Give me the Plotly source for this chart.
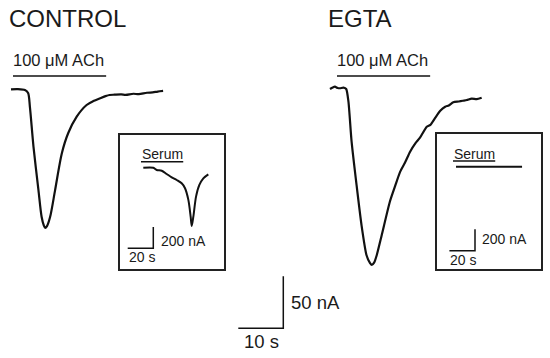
import plotly.graph_objects as go

# ---------------- data ----------------
# Control whole-cell current (time s from trace start, current nA)
ctrl_t = [0, 1.5, 3.1, 3.8, 4.2, 5.0, 6.1, 6.8, 7.3, 7.6, 8.0, 8.7, 9.8, 11.3, 12.7, 14.6, 16.8, 18.3, 19.8, 21.0, 21.9,
          23.0, 24.5, 25.5, 27.2, 28.4, 30.2, 31.5, 32.6, 33.8]
ctrl_i = [0, 0.2, -0.7, -3.6, -16.8, -55.3, -96.9, -122.6, -131.0, -133.2, -131.5, -122.6, -96.9, -61.5, -42.3, -26.3, -15.1,
          -11.3, -8.6, -6.6, -5.5, -5.2, -4.9, -5.3, -4.3, -4.7, -3.3, -3.0, -2.2, -1.6]

# EGTA whole-cell current
egta_t = [0, 0.6, 1.1, 1.7, 2.2, 3.0, 3.6, 4.1, 4.8, 5.9, 7.0, 8.1, 8.9, 9.3, 9.8, 10.4, 11.5, 13.3, 14.5, 15.6, 16.7, 17.8,
          19.0, 20.0, 21.5, 22.3, 23.3, 24.5, 25.6, 26.4, 27.4, 28.6, 29.5, 30.4, 31.5, 32.6, 33.7]
egta_i = [0, 1.5, 2.2, 1.0, 0.7, 1.4, 0, -12.2, -50.7, -92.3, -130.8, -159.6, -167.5, -169.2, -167.0, -159.6, -140.4,
          -108.4, -93.0, -79.5, -70.5, -60.3, -52.0, -46.8, -36.3, -34.5, -28.2, -21.0, -17.0, -15.8, -12.8, -12.0,
          -11.3, -10.6, -9.2, -9.8, -8.4]

# Serum insets (time s, current nA)
ctrl_serum_t = [0, 7.8, 10.5, 14.4, 18.3, 22.2, 26.1, 30.0, 32.6, 35.2, 37.0, 37.8, 39.1, 41.2, 43.8, 46.9, 50.8]
ctrl_serum_i = [0, 0, -21, -28, -59, -90, -115, -146, -192, -301, -457, -545, -457, -270, -161, -99, -62]
egta_serum_t = [0, 51.6]
egta_serum_i = [0, 0]

ach_duration = 20.7     # s
serum_duration = 33.0   # s
main_scale_t, main_scale_i = 10, 50      # s, nA
inset_scale_t, inset_scale_i = 20, 200   # s, nA

# ---------------- layout helpers ----------------
W, H = 550, 358
PX_PER_S, PX_PER_NA = 4.5, 1.04          # main scale
IN_PX_PER_S, IN_PX_PER_NA = 1.28, 0.107  # inset scale

BLACK = "#111111"
FONT = "Arial, Liberation Sans, sans-serif"

fig = go.Figure()

def line(x, y, xa="x", ya="y", w=2.0, shape="linear", smooth=1.0):
    fig.add_trace(go.Scatter(x=x, y=y, mode="lines", xaxis=xa, yaxis=ya,
                             line=dict(color=BLACK, width=w, shape=shape, smoothing=smooth),
                             hoverinfo="skip", showlegend=False))

# main axes: x in s, y in nA (0 at top edge)
def main_pos(px, py):
    return px / PX_PER_S, -py / PX_PER_NA

# Control trace
x0, y0 = main_pos(11, 89.3)
line([x0 + t for t in ctrl_t], [y0 + i for i in ctrl_i], w=2.2, shape="spline", smooth=0.8)
bx, by = main_pos(13, 76)
line([bx, bx + ach_duration], [by, by], w=1.6)

# EGTA trace
x1, y1 = main_pos(330, 89)
line([x1 + t for t in egta_t], [y1 + i for i in egta_i], w=2.2, shape="spline", smooth=0.6)
bx, by = main_pos(337, 76)
line([bx, bx + ach_duration], [by, by], w=1.6)

# main scale bar
sx, sy = main_pos(283.3, 328.3)
line([sx - main_scale_t, sx, sx], [sy, sy, sy + main_scale_i], w=1.5)

# ---------------- insets ----------------
insets = [
    dict(box=(120, 135, 224, 269), xa="x2", ya="y2",
         start=(143.3, 167.7), t=ctrl_serum_t, i=ctrl_serum_i,
         bar=(141, 161.7), scale=(153.3, 248.3)),
    dict(box=(437, 134, 541, 269), xa="x3", ya="y3",
         start=(456, 166.7), t=egta_serum_t, i=egta_serum_i,
         bar=(453, 161), scale=(475, 250.7)),
]

axis_common = dict(showgrid=False, zeroline=False, showticklabels=False, ticks="")
layout_axes = {}
for k, ins in enumerate(insets):
    L, T, R, B = ins["box"]
    def ipos(px, py, L=L, T=T):
        return (px - L) / IN_PX_PER_S, -(py - T) / IN_PX_PER_NA
    sx0, sy0 = ipos(*ins["start"])
    line([sx0 + t for t in ins["t"]], [sy0 + i for i in ins["i"]],
         xa=ins["xa"], ya=ins["ya"], w=2.0, shape="spline", smooth=0.8)
    bx, by = ipos(*ins["bar"])
    line([bx, bx + serum_duration], [by, by], xa=ins["xa"], ya=ins["ya"], w=1.6)
    cx, cy = ipos(*ins["scale"])
    line([cx - inset_scale_t, cx, cx], [cy, cy, cy + inset_scale_i],
         xa=ins["xa"], ya=ins["ya"], w=1.5)
    n = k + 2
    layout_axes[f"xaxis{n}"] = dict(domain=[L / W, R / W], range=[0, (R - L) / IN_PX_PER_S],
                                    anchor=f"y{n}", showline=True, mirror=True,
                                    linecolor="#222222", linewidth=1.5, **axis_common)
    layout_axes[f"yaxis{n}"] = dict(domain=[1 - B / H, 1 - T / H], range=[-(B - T) / IN_PX_PER_NA, 0],
                                    anchor=f"x{n}", showline=True, mirror=True,
                                    linecolor="#222222", linewidth=1.5, **axis_common)

# ---------------- text ----------------
def txt(s, px, py, size, xanchor="left"):
    return dict(text=s, x=px / W, y=1 - py / H, xref="paper", yref="paper",
                xanchor=xanchor, yanchor="middle", showarrow=False,
                font=dict(family=FONT, size=size, color="#1a1a1a"))

annotations = [
    txt("CONTROL", 7, 18, 24),
    txt("EGTA", 326, 18, 24),
    txt("100 μM ACh", 11, 60, 16.5),
    txt("100 μM ACh", 335, 60, 16.5),
    txt("Serum", 162, 153.5, 14, "center"),
    txt("Serum", 474, 153.5, 14, "center"),
    txt("200 nA", 158.5, 241, 14),
    txt("20 s", 127, 257, 14),
    txt("200 nA", 480, 239.5, 14),
    txt("20 s", 448, 260, 14),
    txt("50 nA", 289, 302, 18.5),
    txt("10 s", 241.5, 341.5, 18.5),
]

fig.update_layout(
    width=W, height=H, margin=dict(l=0, r=0, t=0, b=0),
    paper_bgcolor="white", plot_bgcolor="rgba(0,0,0,0)",
    xaxis=dict(domain=[0, 1], range=[0, W / PX_PER_S], visible=False),
    yaxis=dict(domain=[0, 1], range=[-H / PX_PER_NA, 0], visible=False),
    annotations=annotations,
    **layout_axes,
)

fig.write_html("out.html", config={"displayModeBar": False},
               post_script="document.body.style.margin='0';document.body.style.overflow='hidden';")
